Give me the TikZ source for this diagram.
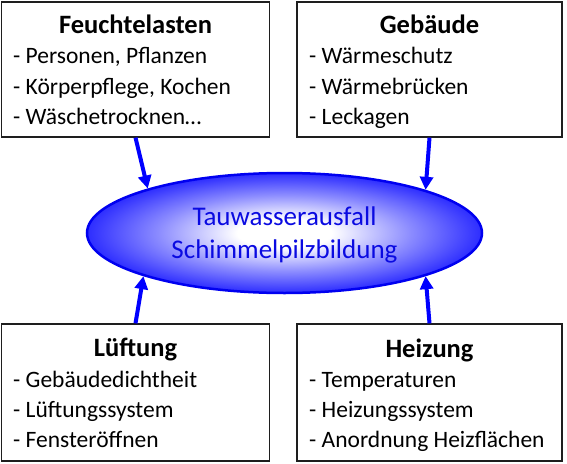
\documentclass[tikz,border=0pt]{standalone}
\usepackage{fontspec}
\setmainfont{Carlito}
\usetikzlibrary{shapes.geometric,arrows.meta}
\definecolor{arrblue}{RGB}{0,0,255}
\definecolor{ellblue}{RGB}{45,45,255}
\definecolor{ellline}{RGB}{0,0,240}
\definecolor{elltext}{RGB}{10,10,225}
\definecolor{boxline}{RGB}{30,30,30}
\pgfdeclareradialshading{glow}{\pgfpoint{0bp}{0bp}}{%
  color(0bp)=(white); color(6bp)=(white); color(16bp)=(ellblue!55!white);
  color(25bp)=(ellblue); color(50bp)=(ellblue)}
\tikzset{
  box/.style={draw=boxline, line width=1.3pt, rectangle, inner sep=0pt, fill=white},
  title/.style={anchor=base, inner sep=0pt, font=\fontsize{26.5}{30}\selectfont\bfseries},
  item/.style={anchor=base west, inner sep=0pt, font=\fontsize{23.5}{30}\selectfont},
  arr/.style={draw=arrblue, line width=4pt, -{Triangle[length=13pt,width=13pt]}},
  cloud/.style={ellipse, draw=ellline, line width=2.5pt, inner sep=0pt,
    minimum width=395pt, minimum height=120pt, shading=glow},
  cloudtext/.style={anchor=base, inner sep=0pt, text=elltext, font=\fontsize{27}{33}\selectfont},
}
\begin{document}
\begin{tikzpicture}[x=1pt,y=-1pt]
\useasboundingbox (0,0) rectangle (567,463);
% boxes
\node[box, minimum width=268pt, minimum height=135pt] (fl) at (135.5,69.5) {};
\node[box, minimum width=265pt, minimum height=135pt] (gb) at (429.5,69.5) {};
\node[box, minimum width=268pt, minimum height=137pt] (lu) at (135.5,392.5) {};
\node[box, minimum width=265pt, minimum height=137pt] (hz) at (429.5,392.5) {};
% titles
\node[title] (flt) at (135.5,33) {Feuchtelasten};
\node[title] (gbt) at (429.5,33) {Gebäude};
\node[title] (lut) at (135.5,356) {Lüftung};
\node[title] (hzt) at (429.5,357) {Heizung};
% items
\node[item] (fl1) at (13,63) {- Personen, Pflanzen};
\node[item] (fl2) at (13,94) {- Körperpflege, Kochen};
\node[item] (fl3) at (13,124) {- Wäschetrocknen…};
\node[item] (gb1) at (309,63) {- Wärmeschutz};
\node[item] (gb2) at (309,94) {- Wärmebrücken};
\node[item] (gb3) at (309,124) {- Leckagen};
\node[item] (lu1) at (13,387) {- Gebäudedichtheit};
\node[item] (lu2) at (13,417) {- Lüftungssystem};
\node[item] (lu3) at (13,447) {- Fensteröffnen};
\node[item] (hz1) at (309,387) {- Temperaturen};
\node[item] (hz2) at (309,417) {- Heizungssystem};
\node[item] (hz3) at (309,447) {- Anordnung Heizflächen};
% ellipse
\node[cloud] (tw) at (284.5,233) {};
\node[cloudtext] (tw1) at (284.5,225) {Tauwasserausfall};
\node[cloudtext] (tw2) at (284.5,258) {Schimmelpilzbildung};
% arrows
\draw[arr] (fl.south) -- (tw.162.9);
\draw[arr] (gb.south) -- (tw.17);
\draw[arr] (lu.north) -- (tw.197.4);
\draw[arr] (hz.north) -- (tw.-17);
\end{tikzpicture}
\end{document}
